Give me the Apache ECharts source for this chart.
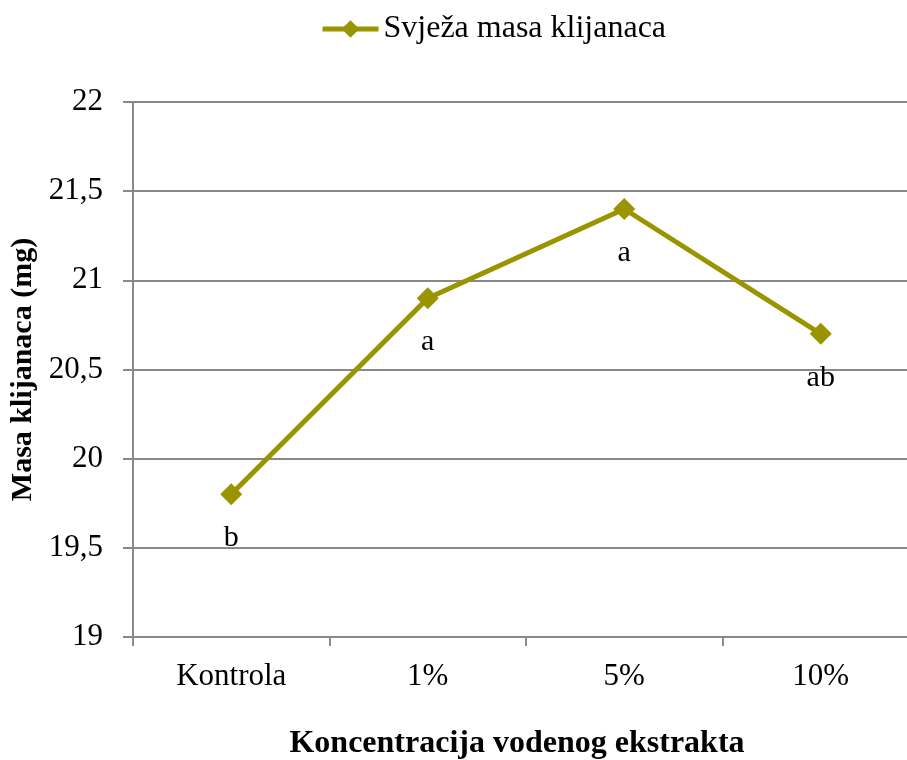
<!DOCTYPE html>
<html>
<head>
<meta charset="utf-8">
<script src="https://cdn.jsdelivr.net/npm/echarts@6/dist/echarts.min.js"></script>
<style>
  html, body { margin: 0; padding: 0; background: #fff; }
  #chart { width: 907px; height: 760px; }
</style>
</head>
<body>
<div id="chart"></div>
<script>
const categories = ['Kontrola', '1%', '5%', '10%']
const masaValues = [19.8, 20.9, 21.4, 20.7]
const letters = ['b', 'a', 'a', 'ab']

const serif = '"Liberation Serif", "DejaVu Serif", serif'
const olive = '#9a9400'

const chart = echarts.init(document.getElementById('chart'))
chart.setOption({
  animation: false,
  textStyle: { fontFamily: serif, color: '#000' },
  legend: {
    top: 8,
    left: 315,
    itemWidth: 56,
    itemHeight: 22,
    itemGap: 5,
    lineStyle: { width: 5 },
    textStyle: { fontFamily: serif, fontSize: 32, color: '#000' },
    data: ['Svježa masa klijanaca']
  },
  grid: {
    left: 133,
    right: -12,
    top: 102,
    bottom: 123,
    outerBoundsMode: 'none'
  },
  xAxis: {
    type: 'category',
    data: categories,
    boundaryGap: true,
    name: 'Koncentracija vodenog ekstrakta',
    nameLocation: 'middle',
    nameGap: 91,
    nameTextStyle: { fontFamily: serif, fontSize: 32, fontWeight: 'bold', color: '#000', padding: [0, 18, 0, 0] },
    axisLine: { lineStyle: { color: '#898989', width: 2 } },
    axisTick: { show: true, length: 9, lineStyle: { color: '#898989', width: 2 } },
    axisLabel: { fontFamily: serif, fontSize: 31, color: '#000', margin: 24 }
  },
  yAxis: {
    type: 'value',
    min: 19,
    max: 22,
    interval: 0.5,
    name: 'Masa klijanaca (mg)',
    nameLocation: 'middle',
    nameGap: 92,
    nameTextStyle: { fontFamily: serif, fontSize: 30, fontWeight: 'bold', color: '#000' },
    axisLine: { show: true, lineStyle: { color: '#898989', width: 2 } },
    axisTick: { show: true, length: 10, lineStyle: { color: '#898989', width: 2 } },
    axisLabel: {
      fontFamily: serif,
      fontSize: 31,
      color: '#000',
      margin: 30,
      formatter: v => String(v).replace('.', ',')
    },
    splitLine: { show: true, lineStyle: { color: '#898989', width: 2 } }
  },
  series: [{
    name: 'Svježa masa klijanaca',
    type: 'line',
    data: masaValues,
    symbol: 'diamond',
    symbolSize: 22,
    itemStyle: { color: olive },
    lineStyle: { color: olive, width: 5 },
    label: {
      show: true,
      position: 'bottom',
      distance: 18,
      fontFamily: serif,
      fontSize: 30,
      color: '#000',
      formatter: p => letters[p.dataIndex]
    }
  }]
})
</script>
</body>
</html>
